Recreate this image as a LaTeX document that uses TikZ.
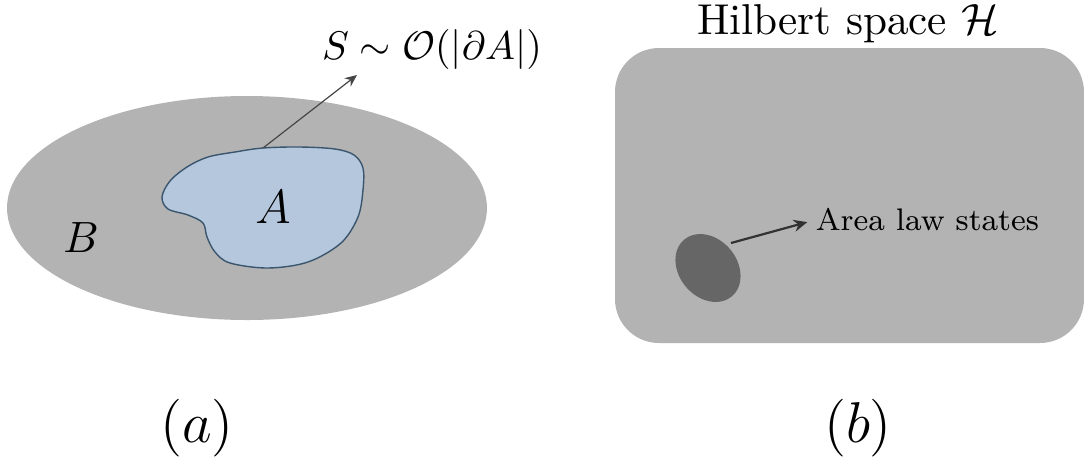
\documentclass[tikz,border=0pt]{standalone}
\usetikzlibrary{arrows.meta}
\begin{document}
\begin{tikzpicture}[x=0.25pt,y=-0.25pt,
  region/.style={fill=regiongray,draw=none},
  lbl/.style={inner sep=0pt,text=black},
  thinarrow/.style={draw=arrowgray,line width=0.3pt,-{Stealth[length=3pt,width=2.6pt]}},
  thickarrow/.style={draw=darkarrow,line width=0.55pt,-{Stealth[length=3.4pt,width=3pt]}}]
\definecolor{regiongray}{RGB}{179,179,179}
\definecolor{blobfill}{RGB}{181,199,221}
\definecolor{blobdraw}{RGB}{58,86,110}
\definecolor{arrowgray}{RGB}{70,70,70}
\definecolor{darkarrow}{RGB}{50,50,50}
\definecolor{statesgray}{RGB}{102,102,102}
\useasboundingbox (0,0) rectangle (1084,462);
% (a)
\fill[regiongray] (247,208) ellipse [x radius=240, y radius=112];
\draw[fill=blobfill,draw=blobdraw,line width=0.35pt] plot[smooth cycle,tension=0.55] coordinates {
 (208,157) (235,152) (263,148) (300,147) (335,149) (354,155) (363,168) (363,190) (358,217) (341,243) (308,262)
 (268,268) (230,263) (215,252) (207,237) (203,223) (188,215) (168,209) (162,197)
 (170,181) (187,167)};
\coordinate (bnd) at (263,148);
\node[lbl,font=\fontsize{12}{14}\selectfont] (A) at (273,207) {$A$};
\node[lbl,font=\fontsize{11}{13}\selectfont] (B) at (81,238) {$B$};
\node[lbl,font=\fontsize{10}{12}\selectfont] (S) at (432,49) {$S\sim\mathcal{O}(|\partial A|)$};
\coordinate (Stip) at (357,75);
\draw[thinarrow] (bnd) -- (Stip);
\node[lbl,font=\fontsize{15}{18}\selectfont] (la) at (197,428) {$(a)$};
% (b)
\fill[regiongray,rounded corners=11pt] (615,48) rectangle (1084,343);
\node[lbl,font=\fontsize{10.8}{13}\selectfont] (H) at (848,24) {Hilbert space $\mathcal{H}$};
\fill[statesgray,rotate around={-50:(708,268)}] (708,268) ellipse [x radius=37, y radius=29];
\coordinate (ell) at (731,243);
\node[lbl,anchor=west,font=\fontsize{7.8}{10}\selectfont] (AL) at (815,220) {Area law states};
\draw[thickarrow,shorten >=2pt] (ell) -- (AL.west);
\node[lbl,font=\fontsize{15}{18}\selectfont] (lb) at (858,428) {$(b)$};
\end{tikzpicture}
\end{document}
